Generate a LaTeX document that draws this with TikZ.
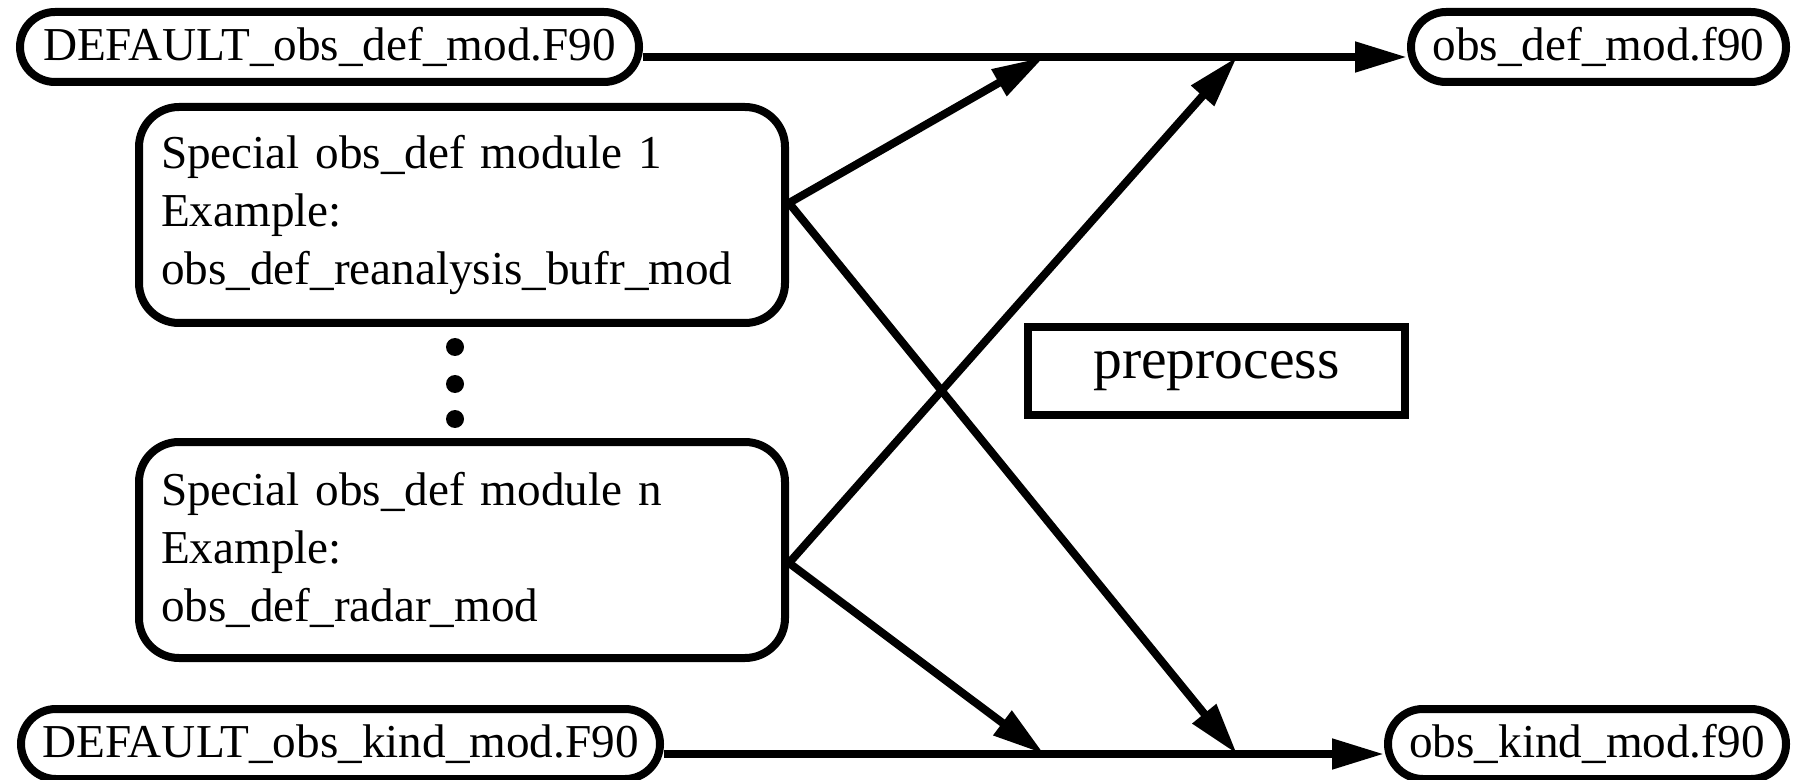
\documentclass[tikz,border=0pt]{standalone}
\usepackage{fontspec}
\setmainfont{Liberation Serif}
\usepackage{tikz}
\usetikzlibrary{arrows.meta,positioning,calc}
\newcommand{\boxfont}{\fontsize{23.6pt}{29pt}\selectfont}
\newcommand{\prepfont}{\fontsize{28.8pt}{34pt}\selectfont}
\tikzset{
  filebox/.style={draw, line width=4pt, rounded corners=17.5pt, minimum height=35pt, inner sep=0pt, font=\boxfont},
  modbox/.style={draw, line width=4pt, rounded corners=20pt, align=left, text width=301pt, inner xsep=11pt, minimum height=108pt, font=\boxfont},
  flow/.style={line width=4pt, -{Triangle[length=26pt,width=14.5pt]}},
}

\begin{document}
\begin{tikzpicture}[x=0.5pt, y=-0.5pt]
\useasboundingbox (0,0) rectangle (1808,780);
% Inputs and outputs
\node[filebox, minimum width=309.5pt] (defin) at (329.5,47) {DEFAULT\_obs\_def\_mod.F90};
\node[filebox, minimum width=187.5pt] (defout) at (1598.5,47) {obs\_def\_mod.f90};
\node[filebox, minimum width=319.5pt] (kindin) at (340.5,744) {DEFAULT\_obs\_kind\_mod.F90};
\node[filebox, minimum width=199pt] (kindout) at (1587,744) {obs\_kind\_mod.f90};
% Special modules
\node[modbox] (spec1) at (462,215) {Special obs\_def module 1\\Example:\\obs\_def\_reanalysis\_bufr\_mod};
\node[modbox] (specn) at (462,550) {Special obs\_def module n\\Example:\\obs\_def\_radar\_mod};
\foreach \y [count=\i] in {347,384,419}
  \fill (455,\y) circle (4.5pt) coordinate (dot\i);
% Preprocess
\node[draw, line width=4pt, minimum width=188.5pt, minimum height=44pt, inner sep=0pt, font=\prepfont] (prep) at (1216.5,371) {preprocess};
% Where the modules join the main lines
\coordinate (jdefa) at (1044,57);
\coordinate (jdefb) at (1237,57);
\coordinate (jkinda) at (1044,754);
\coordinate (jkindb) at (1237,754);
% Main lines
\draw[flow] ([yshift=-5pt]defin.east) -- ([yshift=-5pt]defout.west);
\draw[flow] ([yshift=-5pt]kindin.east) -- ([yshift=-5pt]kindout.west);
% Module connectors
\draw[flow] ([yshift=6pt]spec1.east) -- (jdefa);
\draw[flow] ([yshift=6pt]spec1.east) -- (jkindb);
\draw[flow] ([yshift=-6.5pt]specn.east) -- (jdefb);
\draw[flow] ([yshift=-6.5pt]specn.east) -- (jkinda);
\end{tikzpicture}
\end{document}
